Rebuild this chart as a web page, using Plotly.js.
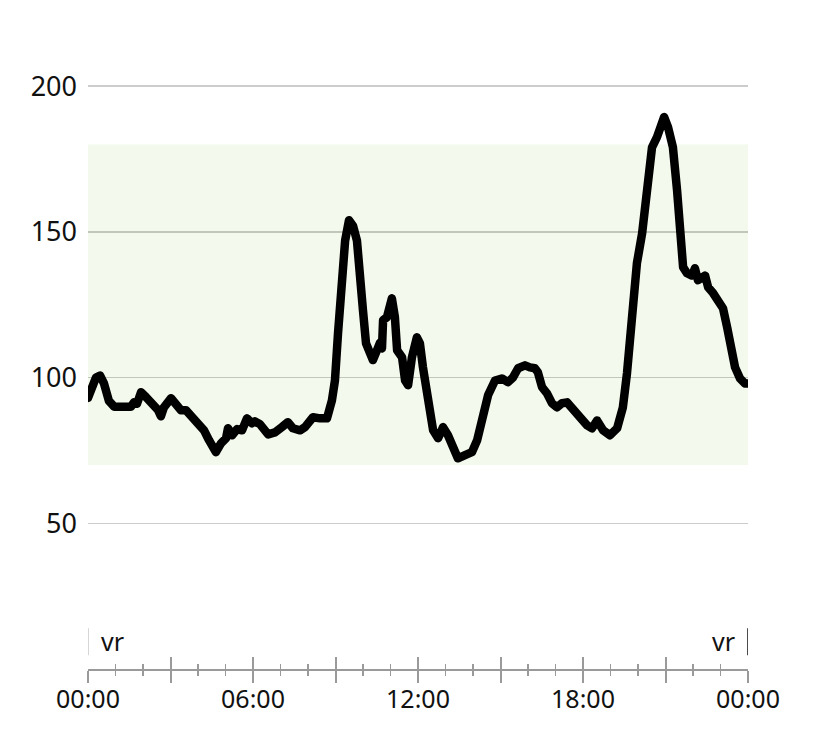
<!DOCTYPE html>
<html>
<head>
<meta charset="utf-8">
<script src="https://cdn.plot.ly/plotly-3.0.1.min.js"></script>
<style>
html,body{margin:0;padding:0;background:#fff;}
#chart{width:828px;height:742px;}
.scatterlayer path.js-line{stroke-linejoin:round;stroke-linecap:round;}
</style>
</head>
<body>
<div id="chart"></div>
<script>
// time of day in hours (0 = 00:00, 24 = next 00:00)
const hours = [0.00,0.15,0.29,0.44,0.58,0.76,0.95,1.56,1.67,1.78,1.93,2.11,2.33,2.55,2.65,2.76,3.02,3.20,3.38,3.56,3.75,3.96,4.22,4.40,4.65,4.84,5.02,5.09,5.24,5.42,5.60,5.78,5.96,6.07,6.25,6.55,6.80,7.05,7.27,7.45,7.71,7.89,8.18,8.44,8.69,8.87,8.98,9.09,9.24,9.35,9.49,9.64,9.78,9.89,10.00,10.11,10.25,10.36,10.51,10.62,10.69,10.73,10.87,11.05,11.16,11.24,11.42,11.53,11.64,11.78,11.96,12.07,12.18,12.36,12.55,12.73,12.91,13.09,13.27,13.45,13.71,13.96,14.15,14.36,14.55,14.80,15.05,15.27,15.45,15.64,15.89,16.07,16.25,16.36,16.51,16.69,16.87,17.05,17.24,17.42,17.60,17.78,17.96,18.15,18.33,18.51,18.73,18.98,19.24,19.45,19.60,19.78,19.96,20.15,20.33,20.51,20.69,20.80,20.95,21.09,21.27,21.42,21.53,21.64,21.78,21.96,22.07,22.18,22.44,22.55,22.73,22.91,23.09,23.24,23.35,23.53,23.71,23.89,24.00];
// glucose readings
const glucose = [93,98,100,100.7,98,92,90,90,91.5,91,95,93.3,91.2,88.8,86.7,89.8,92.9,90.5,88.8,88.8,87,84.7,81.9,78.5,74.4,77.5,79.2,82.6,80.2,82.3,81.9,86,84.3,85,84,80.5,81.2,83,84.7,82.6,81.9,83,86.4,86,86,92.2,99,115,132,147,154,152,147,138,123,111.7,107,106,109.4,112,110,119.7,120.7,127.2,120.7,109.4,107,99,97.4,107,113.8,111.7,103.5,92.2,81.9,79.2,83,80.2,76.1,72.3,73.4,74.4,78.5,87.7,94,99,99.7,98.4,100,103.2,104.2,103.5,103.2,101.8,96.7,94.6,91.2,89.8,91.2,91.5,89.5,88.1,85.3,83.6,82.6,85.3,81.9,80.2,82.6,89.8,101.5,120.7,139.2,149.5,164.3,179,182.5,186.6,189.4,186,179,164.3,151.6,137.9,135.8,135,137.5,133.4,135,131,129,126.6,123.8,117.3,110.4,103.5,99.7,98,98];

const targetRange = [70, 180];
const yTicks = [50, 100, 150, 200];
const xTickVals = [0, 3, 6, 9, 12, 15, 18, 21, 24];
const xTickText = ['00:00', '', '06:00', '', '12:00', '', '18:00', '', '00:00'];
const dayMarkers = [0, 24];
const dayLabels = ['vr', 'vr'];

const FONT = '"Noto Sans", sans-serif';
const TEXT = '#111111';
const AXIS = '#9a9a9a';

const traces = [
  {
    x: hours, y: glucose, type: 'scatter', mode: 'lines',
    line: {color: '#000000', width: 8.5},
    hoverinfo: 'skip', showlegend: false
  },
  {
    x: hours, y: glucose, type: 'scatter', mode: 'lines', xaxis: 'x2',
    line: {color: 'rgba(0,0,0,0)', width: 0}, opacity: 0,
    hoverinfo: 'skip', showlegend: false
  }
];

const shapes = [
  {type: 'rect', xref: 'paper', yref: 'y', x0: 0, x1: 1, y0: targetRange[0], y1: targetRange[1],
   fillcolor: '#f3f9ec', line: {width: 0}, layer: 'below'},
  {type: 'line', xref: 'x', yref: 'y', x0: dayMarkers[0], x1: dayMarkers[0], y0: 4.7, y1: 14,
   line: {color: '#c8c8c8', width: 1.5}},
  {type: 'line', xref: 'x', yref: 'y', x0: dayMarkers[1], x1: dayMarkers[1], y0: 4.7, y1: 14,
   line: {color: '#111111', width: 1.5}}
];

const annotations = [
  {x: dayMarkers[0], y: 9.6, xref: 'x', yref: 'y', text: dayLabels[0], showarrow: false,
   xanchor: 'left', yanchor: 'middle', xshift: 11, font: {family: FONT, size: 25, color: TEXT}},
  {x: dayMarkers[1], y: 9.6, xref: 'x', yref: 'y', text: dayLabels[1], showarrow: false,
   xanchor: 'right', yanchor: 'middle', xshift: -11, font: {family: FONT, size: 25, color: TEXT}}
];

const layout = {
  width: 828, height: 742,
  margin: {l: 88, r: 80, t: 57, b: 73.33, pad: 0},
  paper_bgcolor: '#ffffff', plot_bgcolor: 'rgba(0,0,0,0)',
  showlegend: false,
  font: {family: FONT, color: TEXT},
  xaxis: {
    range: [0, 24], tickmode: 'array', tickvals: xTickVals, ticktext: xTickText,
    ticks: 'outside', ticklen: 12, tickwidth: 2, tickcolor: AXIS,
    showline: true, linecolor: AXIS, linewidth: 2,
    showgrid: false, zeroline: false, fixedrange: true,
    ticklabelstandoff: -5,
    tickfont: {family: FONT, size: 25, color: TEXT},
    minor: {tickmode: 'linear', tick0: 0, dtick: 1, ticks: 'outside', ticklen: 5, tickwidth: 1.5, tickcolor: AXIS, showgrid: false}
  },
  xaxis2: {
    overlaying: 'x', anchor: 'y', side: 'bottom',
    range: [0, 24], tickmode: 'array', tickvals: xTickVals,
    ticks: 'inside', ticklen: 12, tickwidth: 2, tickcolor: AXIS,
    showticklabels: false, showline: false, showgrid: false, zeroline: false, fixedrange: true,
    minor: {tickmode: 'linear', tick0: 0, dtick: 1, ticks: 'inside', ticklen: 5, tickwidth: 1.5, tickcolor: AXIS, showgrid: false}
  },
  yaxis: {
    range: [0, 210], tickmode: 'array', tickvals: yTicks,
    ticks: '', showline: false, zeroline: false, fixedrange: true,
    showgrid: true, gridcolor: 'rgba(0,0,0,0.2)', gridwidth: 1.5,
    ticklabelstandoff: 10,
    tickfont: {family: FONT, size: 27, color: TEXT}
  },
  shapes: shapes,
  annotations: annotations
};

Plotly.newPlot('chart', traces, layout, {staticPlot: true, displayModeBar: false});
</script>
</body>
</html>
